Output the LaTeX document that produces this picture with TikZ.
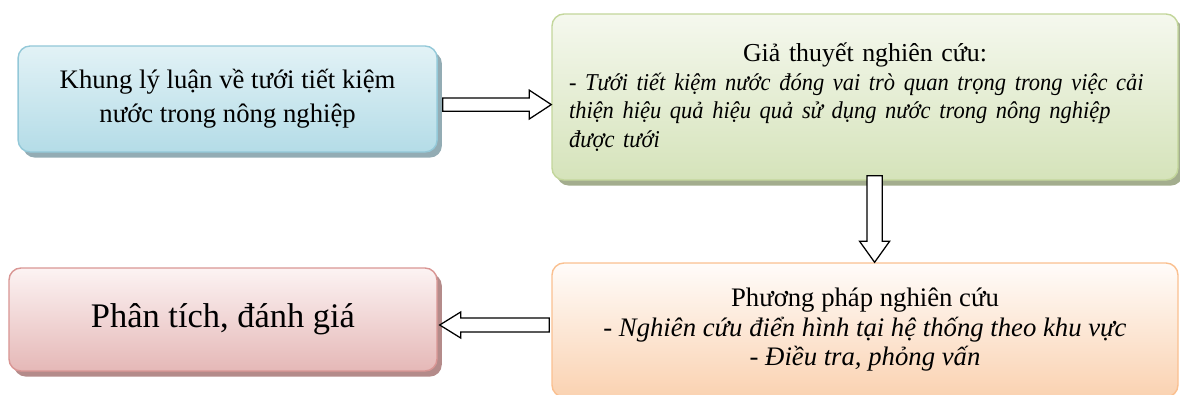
\documentclass[tikz,border=0pt]{standalone}
\usepackage{fontspec}
\setmainfont{Liberation Serif}
\newfontfamily\hepfont[FakeStretch=0.93]{Liberation Serif}
\usetikzlibrary{positioning, calc, shadows}

\definecolor{xanhVien}{HTML}{93C8D8}
\definecolor{xanhTren}{HTML}{E2F2F6}
\definecolor{xanhDuoi}{HTML}{B4DCE7}
\definecolor{xanhBong}{HTML}{93ACB4}
\definecolor{lucVien}{HTML}{C3D69B}
\definecolor{lucTren}{HTML}{F5F8EE}
\definecolor{lucDuoi}{HTML}{D5E3BA}
\definecolor{lucBong}{HTML}{A3AD8E}
\definecolor{camVien}{HTML}{FAC090}
\definecolor{camTren}{HTML}{FFFCFA}
\definecolor{camDuoi}{HTML}{FAD2B1}
\definecolor{hongVien}{HTML}{D99694}
\definecolor{hongTren}{HTML}{FCF3F3}
\definecolor{hongDuoi}{HTML}{E5B8B7}
\definecolor{hongBong}{HTML}{B48B8A}

\tikzset{
  hop/.style={rounded corners=0.3cm, line width=1pt, inner sep=0pt},
  bong/.style={drop shadow={shadow xshift=0.12cm, shadow yshift=-0.14cm, fill=#1, opacity=1}},
  muiten/.style={draw=black, fill=white, line width=0.9pt, line join=miter},
}

\begin{document}
\begin{tikzpicture}
  \useasboundingbox (0,0) rectangle (29.5,-9.875);

  % Khung ly luan
  \node[hop, bong=xanhBong, draw=xanhVien, top color=xanhTren, bottom color=xanhDuoi,
        minimum width=10.475cm, minimum height=2.65cm, align=center,
        font=\fontsize{19}{24}\selectfont] (khung) at (5.69,-2.475)
        {Khung lý luận về tưới tiết kiệm\\nước trong nông nghiệp};

  % Gia thuyet nghien cuu
  \node[hop, bong=lucBong, draw=lucVien, top color=lucTren, bottom color=lucDuoi,
        minimum width=15.65cm, minimum height=4.15cm, text width=14.8cm, align=left,
        font=\fontsize{18.4}{20.4}\selectfont] (giathuyet) at (21.625,-2.425)
        {{\centering Giả thuyết nghiên cứu:\par}
         {\hepfont\itshape\fontsize{17.2}{20.4}\selectfont
         - Tưới tiết kiệm nước đóng vai trò quan trọng trong việc cải\\
         thiện hiệu quả hiệu quả sử dụng nước trong nông nghiệp\\
         được tưới\par}\vspace{0.3cm}};

  % Phuong phap nghien cuu
  \node[hop, draw=camVien, top color=camTren, bottom color=camDuoi,
        minimum width=15.65cm, minimum height=3.35cm, align=center,
        font=\fontsize{19}{21}\selectfont] (phuongphap) at (21.625,-8.25)
        {Phương pháp nghiên cứu\\
         \textit{- Nghiên cứu điển hình tại hệ thống theo khu vực}\\
         \textit{- Điều tra, phỏng vấn}};

  % Phan tich, danh gia
  \node[hop, bong=hongBong, draw=hongVien, top color=hongTren, bottom color=hongDuoi,
        minimum width=10.7cm, minimum height=2.575cm,
        font=\fontsize{24.5}{28}\selectfont] (phantich) at (5.575,-7.9875)
        {Phân tích, đánh giá};

  % Mui ten 1: khung -> gia thuyet
  \coordinate (a1s) at ($(khung.east)+(0.125,-0.14)$);
  \coordinate (a1e) at (a1s -| giathuyet.west);
  \draw[muiten] ($(a1s)+(0,0.165)$) -- ($(a1e)+(-0.55,0.165)$) -- ($(a1e)+(-0.55,0.36)$)
     -- (a1e) -- ($(a1e)+(-0.55,-0.36)$) -- ($(a1e)+(-0.55,-0.165)$)
     -- ($(a1s)+(0,-0.165)$) -- cycle;

  % Mui ten 2: gia thuyet -> phuong phap
  \coordinate (a2s) at ($(giathuyet.south)+(0.24,0.125)$);
  \coordinate (a2e) at (a2s |- phuongphap.north);
  \draw[muiten] ($(a2s)+(-0.19,0)$) -- ($(a2e)+(-0.19,0.525)$) -- ($(a2e)+(-0.375,0.525)$)
     -- (a2e) -- ($(a2e)+(0.375,0.525)$) -- ($(a2e)+(0.19,0.525)$)
     -- ($(a2s)+(0.19,0)$) -- cycle;

  % Mui ten 3: phuong phap -> phan tich
  \coordinate (a3s) at ($(phuongphap.west)+(-0.05,0.125)$);
  \coordinate (a3e) at ($(a3s -| phantich.east)+(0.05,0)$);
  \draw[muiten] ($(a3s)+(0,0.175)$) -- ($(a3e)+(0.525,0.175)$) -- ($(a3e)+(0.525,0.325)$)
     -- (a3e) -- ($(a3e)+(0.525,-0.325)$) -- ($(a3e)+(0.525,-0.175)$)
     -- ($(a3s)+(0,-0.175)$) -- cycle;
\end{tikzpicture}
\end{document}
